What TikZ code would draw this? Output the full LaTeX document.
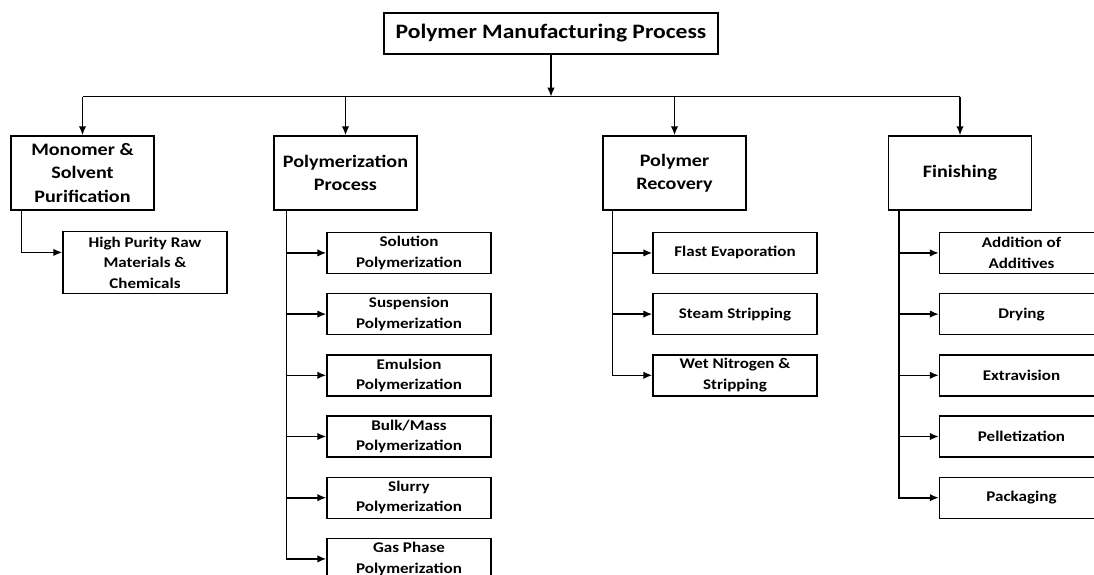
\documentclass[tikz,border=0pt]{standalone}
\usepackage{fontspec}
\setmainfont{Carlito}[FakeStretch=1.15]
\usetikzlibrary{positioning,arrows.meta}
\tikzset{
  every node/.append style={font=\bfseries},
  feed/.style={-{Latex[length=9pt,width=7.5pt]},line width=1.6pt},
  bus/.style={line width=1.6pt},
  headbox/.style={rectangle,draw,line width=1.4pt,minimum width=334pt,
    minimum height=41pt,font=\fontsize{20.5}{24}\bfseries},
  stage/.style={rectangle,draw,line width=1.4pt,align=center,minimum
    width=143pt,minimum height=74pt,font=\fontsize{17.5}{23.3}\bfseries},
  substage/.style={rectangle,draw,line width=1.4pt,align=center,minimum
    width=164pt,minimum height=41pt,inner sep=1pt,node distance=18.8pt,
    font=\fontsize{14.8}{20.5}\bfseries},
}

\begin{document}
\begin{tikzpicture}
  \clip (0,0) rectangle (1094pt,-575pt);
  \useasboundingbox (0,0) rectangle (1094pt,-575pt);

  \node (head) [headbox] at (551pt,-33.5pt) {Polymer Manufacturing Process};
  \coordinate (bus) at ([yshift=-42pt]head.south);

  % main stages
  \node (mono) [stage] at (82.5pt,-173pt) {Monomer \&\\Solvent\\Purification};
  \node (poly) [stage] at (345.5pt,-173pt) {Polymerization\\Process};
  \node (rec) [stage] at (674.5pt,-173pt) {Polymer\\Recovery};
  \node (fin) [stage] at (960pt,-173pt) {Finishing};

  \draw[feed] (head.south) -- (bus);
  \draw[bus] (bus -| mono.north) -- (bus -| fin.north);
  \foreach \n in {mono,poly,rec,fin}
    \draw[feed] (bus -| \n.north) -- (\n.north);

  % monomer branch
  \node (hpr) [substage,minimum height=62pt,anchor=north west]
    at ([xshift=52pt,yshift=-20pt]mono.south west)
    {High Purity Raw\\Materials \&\\Chemicals};
  \draw[feed] ([xshift=11pt]mono.south west) |- ([yshift=10pt]hpr.west);

  % polymerization branch
  \node (p1) [substage,anchor=north west]
    at ([xshift=53pt,yshift=-21pt]poly.south west) {Solution\\Polymerization};
  \node (p2) [substage,below=of p1] {Suspension\\Polymerization};
  \node (p3) [substage,below=of p2] {Emulsion\\Polymerization};
  \node (p4) [substage,below=of p3] {Bulk/Mass\\Polymerization};
  \node (p5) [substage,below=of p4] {Slurry\\Polymerization};
  \node (p6) [substage,below=of p5] {Gas Phase\\Polymerization};
  \foreach \c in {p1,p2,p3,p4,p5,p6}
    \draw[feed] ([xshift=13pt]poly.south west) |- (\c.west);

  % recovery branch
  \node (r1) [substage,anchor=north west]
    at ([xshift=50pt,yshift=-21pt]rec.south west) {Flast Evaporation};
  \node (r2) [substage,below=of r1] {Steam Stripping};
  \node (r3) [substage,below=of r2] {Wet Nitrogen \&\\Stripping};
  \foreach \c in {r1,r2,r3}
    \draw[feed] ([xshift=10pt]rec.south west) |- (\c.west);

  % finishing branch
  \node (f1) [substage,anchor=north west]
    at ([xshift=51pt,yshift=-21pt]fin.south west) {Addition of\\Additives};
  \node (f2) [substage,below=of f1] {Drying};
  \node (f3) [substage,below=of f2] {Extravision};
  \node (f4) [substage,below=of f3] {Pelletization};
  \node (f5) [substage,below=of f4] {Packaging};
  \foreach \c in {f1,f2,f3,f4,f5}
    \draw[feed] ([xshift=11pt]fin.south west) |- (\c.west);
\end{tikzpicture}
\end{document}
